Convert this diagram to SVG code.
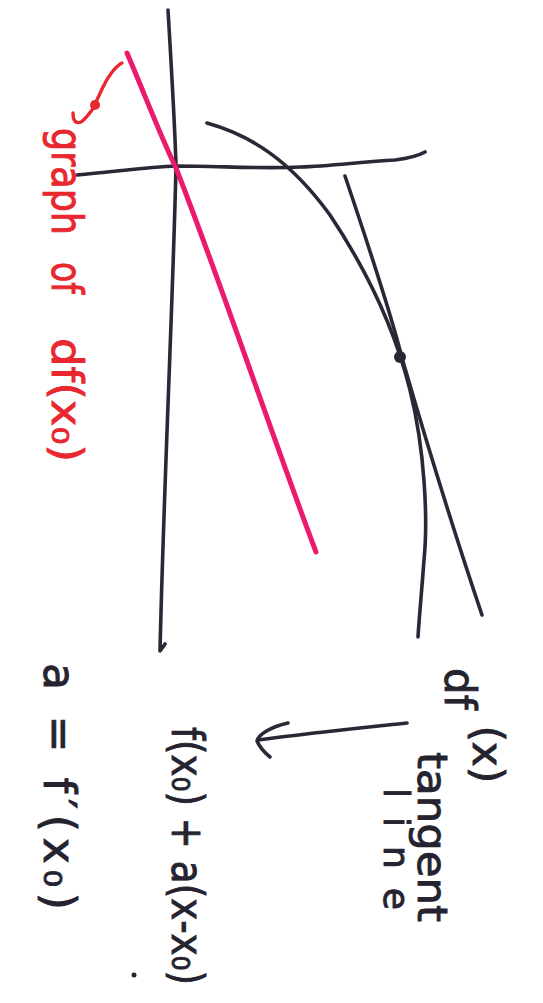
<svg xmlns="http://www.w3.org/2000/svg" width="543" height="1003" viewBox="0 0 543 1003">
<defs>
<style>
.ink{fill:none;stroke:#2a2836;stroke-width:3.6;stroke-linecap:round;stroke-linejoin:round}
.pink{fill:none;stroke:#ea1a6c;stroke-width:5;stroke-linecap:round}
.red{fill:none;stroke:#e8272f;stroke-width:3.4;stroke-linecap:round;stroke-linejoin:round}
.tb{font-family:"DejaVu Sans",sans-serif;fill:#25232f;stroke:#25232f;stroke-width:0.9}
.tr{font-family:"DejaVu Sans",sans-serif;fill:#e8272f;stroke:#e8272f;stroke-width:0.9}
</style>
</defs>
<rect width="543" height="1003" fill="#ffffff"/>
<g id="axes">
<path class="ink" d="M168,10 C171,60 175,130 176,166 C173,300 164,480 160,651 L165,644"/>
<path class="ink" d="M77,175 C120,171 150,167 176,166 C220,166 260,169 300,167 C330,166 360,162 395,160 C410,158 418,156 425,152"/>
</g>
<g id="curve">
<path class="ink" d="M207,123 C250,135 290,160 330,215 C370,275 395,330 410,390 C425,450 428,520 424,560 C421,600 419,620 418,637"/>
</g>
<g id="tangent">
<path class="ink" d="M345,176 C370,250 390,310 402,358 C420,420 450,520 482,615"/>
<circle cx="400" cy="357" r="6" fill="#2a2836"/>
</g>
<g id="derivative">
<path class="pink" d="M127,53 C145,95 160,135 176,168 C220,280 270,430 316,552"/>
</g>
<g id="connectors">
<path class="red" d="M122,63 C116,66 108,76 103,87 L96,102"/>
<path class="red" d="M73,113 C73,121 76,124 81,122 C86,119 92,110 97,103"/>
<circle cx="95" cy="105" r="5" fill="#e8272f"/>
<path class="ink" d="M407,723 C360,728 310,733 258,740"/>
<path class="ink" d="M288,723 C270,727 258,735 257,741 C260,748 265,753 270,757"/>
</g>
<g id="label-graph">
<text class="tr" font-size="42" transform="translate(52,128) rotate(90)"><tspan x="0" textLength="107" lengthAdjust="spacingAndGlyphs">graph</tspan><tspan x="134" textLength="32" lengthAdjust="spacingAndGlyphs">of</tspan><tspan x="210" textLength="124" lengthAdjust="spacingAndGlyphs">df(x₀)</tspan></text>
</g>
<g id="label-tangent">
<text class="tb" font-size="42" transform="translate(445,668) rotate(90)">df<tspan dx="16" dy="-28">(x)</tspan></text>
<text class="tb" font-size="40" transform="translate(418,752) rotate(90)" textLength="170" lengthAdjust="spacingAndGlyphs">tangent</text>
<text class="tb" font-size="36" transform="translate(384,788) rotate(90)" textLength="122">line</text>
</g>
<g id="label-formula">
<text class="tb" font-size="44" transform="translate(172,727) rotate(90)" textLength="258" lengthAdjust="spacingAndGlyphs">f(x₀) + a(x-x₀)</text>
<circle cx="134" cy="975" r="2.5" fill="#25232f"/>
</g>
<g id="label-a">
<text class="tb" font-size="44" transform="translate(44,663) rotate(90)" textLength="247">a = f′(x₀)</text>
</g>
</svg>
